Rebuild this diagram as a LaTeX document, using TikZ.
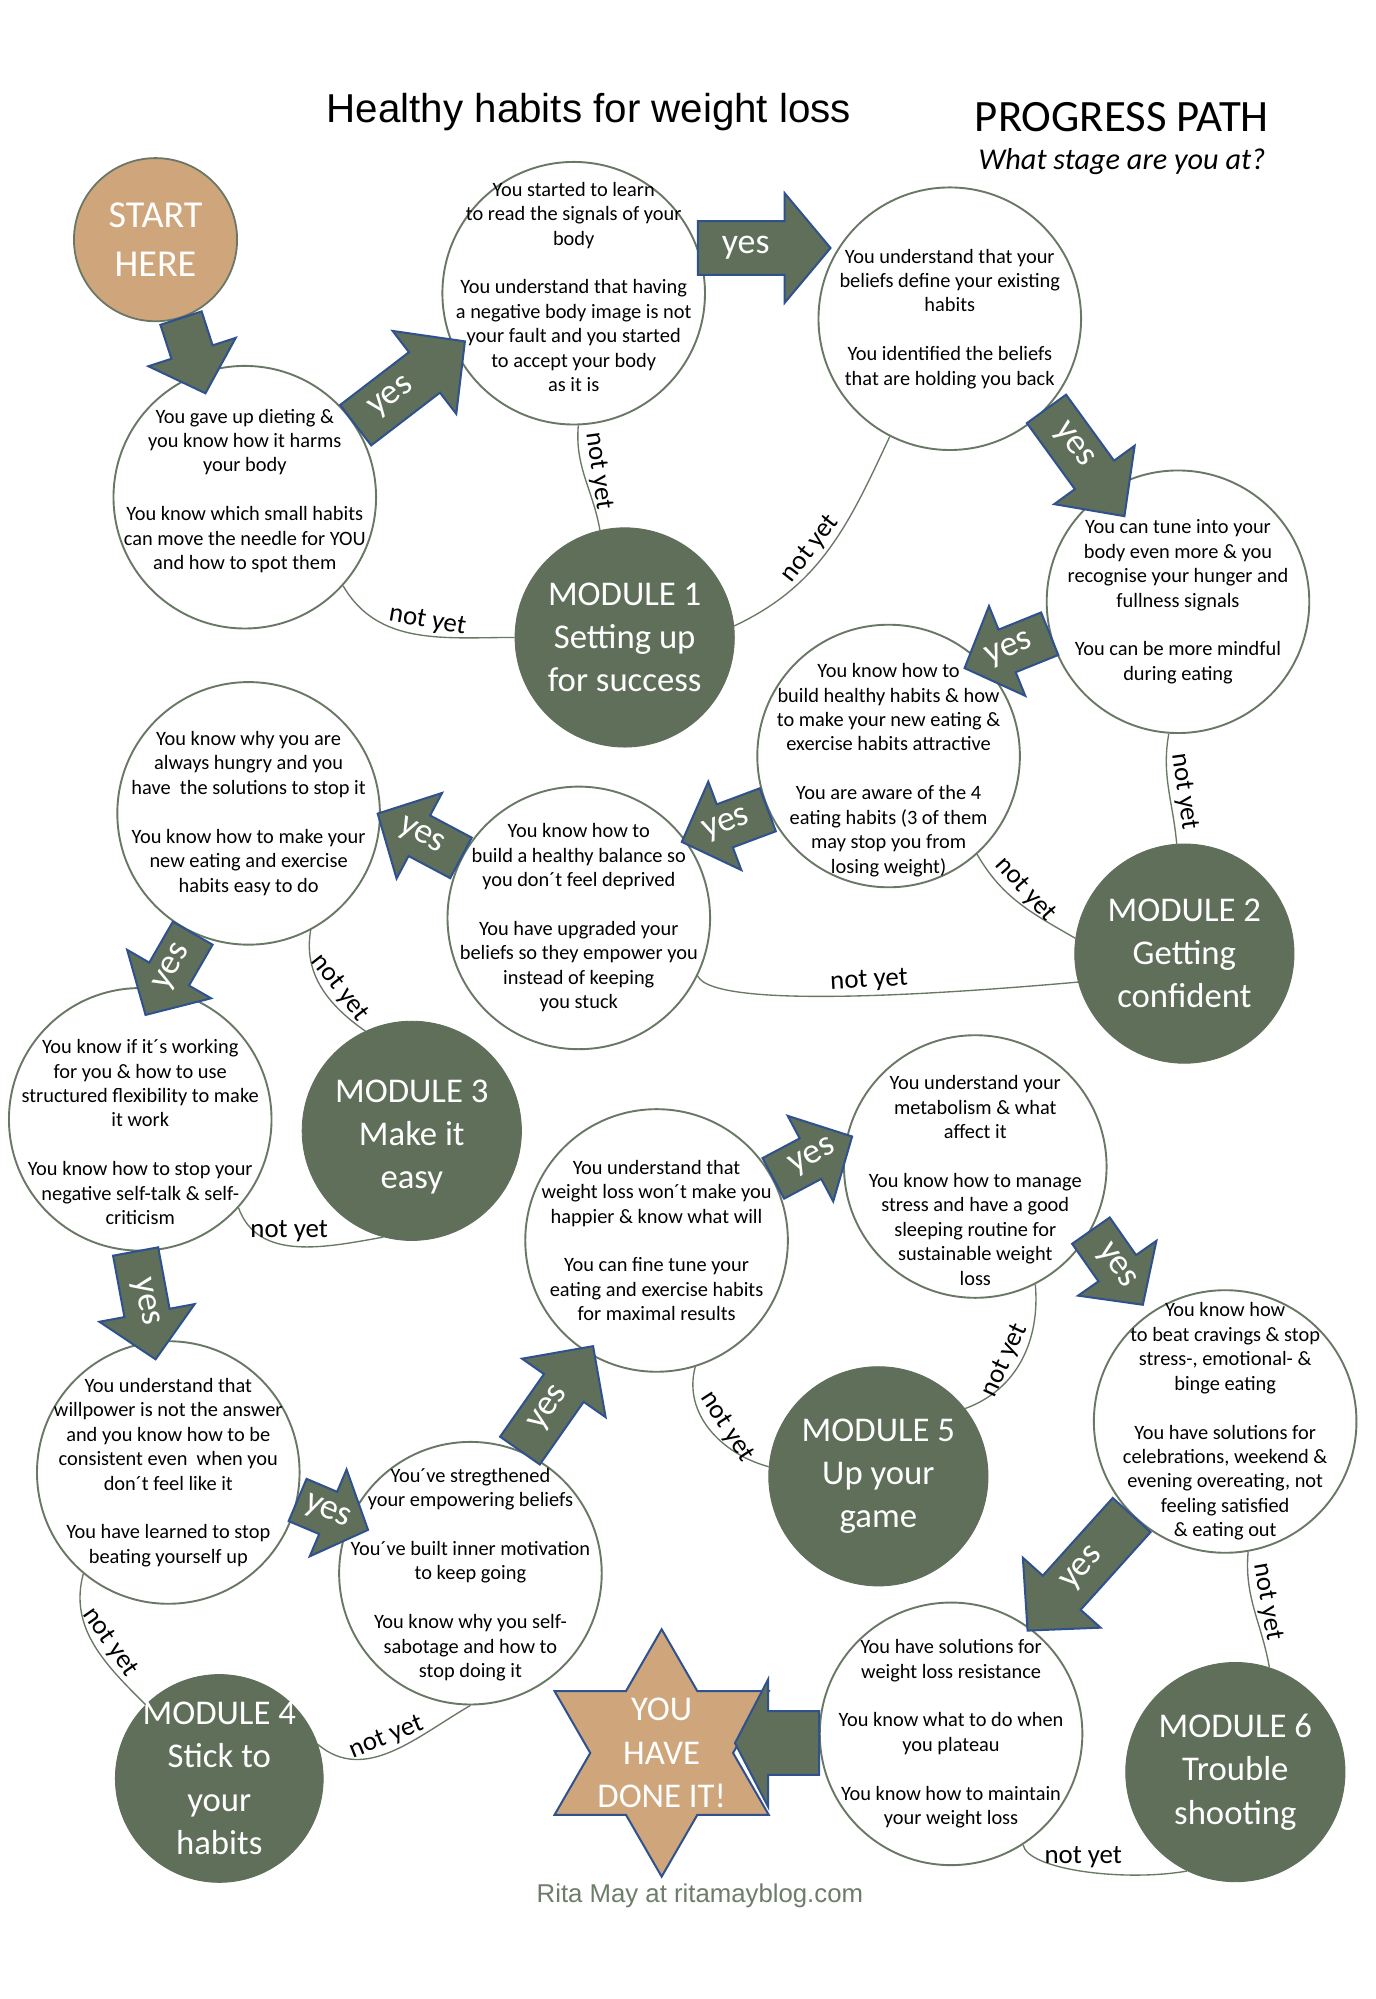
\documentclass[tikz,border=0pt]{standalone}
\usepackage{fontspec}
\setmainfont{Carlito}
\newfontfamily\arialfont{Liberation Sans}
\usetikzlibrary{positioning}

\definecolor{modgreen}{HTML}{5F6F5A}
\definecolor{ringgreen}{HTML}{687865}
\definecolor{starttan}{HTML}{CFA57C}
\definecolor{edgeblue}{HTML}{2F528F}
\definecolor{creditgrey}{HTML}{6D7D69}

\tikzset{
    stage/.style={circle, draw=ringgreen, line width=0.85pt, fill=white, minimum size=4.12cm, inner sep=0pt},
    stagetext/.style={align=center, inner sep=0pt, font=\fontsize{9.1}{10.9}\selectfont},
    module/.style={circle, fill=modgreen, draw=modgreen, minimum size=3.44cm, inner sep=0pt},
    moduletext/.style={align=center, inner sep=0pt, text=white, font=\fontsize{15.5}{19.3}\selectfont},
    startdot/.style={circle, fill=starttan, draw=ringgreen, line width=0.8pt, minimum size=2.56cm,
        inner sep=0pt, align=center, text=white, font=\fontsize{17}{22}\selectfont},
    notyet/.style={draw=ringgreen, line width=0.6pt},
    nylabel/.style={font=\fontsize{12}{12}\selectfont, inner sep=1.5pt},
    arrowbody/.style={fill=modgreen, draw=edgeblue, line width=0.9pt, line join=miter},
    yestext/.style={text=white, font=\fontsize{16}{16}\selectfont, inner sep=0pt},
    starshape/.style={fill=starttan, draw=edgeblue, line width=0.9pt},
}

% block arrow: tail, angle, length, shaft half width, head half width, head length, label spot, text
\newcommand{\blockarrow}[8]{%
    \begin{scope}[shift={(#1)}, rotate=#2]
        \draw[arrowbody] (0,-#4) -- ({#3-#6},-#4) -- ({#3-#6},-#5) -- (#3,0)
            -- ({#3-#6},#5) -- ({#3-#6},#4) -- (0,#4) -- cycle;
        \pgfmathsetmacro{\txtrot}{cos(#2)<-0.01 ? #2+180 : #2}
        \node[yestext, rotate=\txtrot] at ({#7*#3},0) {#8};
    \end{scope}}

\begin{document}
\begin{tikzpicture}[x=0.02cm, y=-0.02cm]
    \fill[white] (0,0) rectangle (1079,1568);
    \useasboundingbox (0,0) rectangle (1079,1568);

    % titles
    \node[font=\arialfont\fontsize{18}{20}\selectfont] (title) at (462,88) {Healthy habits for weight loss};
    \node[font=\fontsize{20}{22}\selectfont] (path) at (880,92) {PROGRESS PATH};
    \node[font=\itshape\fontsize{13.5}{15}\selectfont] (question) at (880,127) {What stage are you at?};

    \node[startdot] (start) at (122,188) {START\\HERE};

    % stages
    \node[stage] (c1) at (192,390) {};
    \node[stage] (c2) at (450,230) {};
    \node[stage] (c3) at (745,250) {};
    \node[stage] (c4) at (924,472) {};
    \node[stage] (c5) at (697,593) {};
    \node[stage] (c6) at (454,720) {};
    \node[stage] (c7) at (195,638) {};
    \node[stage] (c8) at (110,878) {};
    \node[stage] (c9) at (132,1155) {};
    \node[stage] (c10) at (369,1234) {};
    \node[stage] (c11) at (515,973) {};
    \node[stage] (c12) at (765,915) {};
    \node[stage] (c13) at (961,1115) {};
    \node[stage] (c14) at (746,1360) {};

    \node[stagetext, yshift=0.1cm] (t1) at (c1) {You gave up dieting \&\\you know how it harms\\your body\\[10.9pt]
        You know which small habits\\can move the needle for YOU\\and how to spot them};
    \node[stagetext, yshift=0.1cm] (t2) at (c2) {You started to learn\\to read the signals of your\\body\\[10.9pt]
        You understand that having\\a negative body image is not\\your fault and you started\\to accept your body\\as it is};
    \node[stagetext] (t3) at (c3) {You understand that your\\beliefs define your existing\\habits\\[10.9pt]
        You identified the beliefs\\that are holding you back};
    \node[stagetext] (t4) at (c4) {You can tune into your\\body even more \& you\\recognise your hunger and\\fullness signals\\[10.9pt]
        You can be more mindful\\during eating};
    \node[stagetext, yshift=-0.22cm] (t5) at (c5) {You know how to\\build healthy habits \& how\\to make your new eating \&\\exercise habits attractive\\[10.9pt]
        You are aware of the 4\\eating habits (3 of them\\may stop you from\\losing weight)};
    \node[stagetext] (t6) at (c6) {You know how to\\build a healthy balance so\\you don´t feel deprived\\[10.9pt]
        You have upgraded your\\beliefs so they empower you\\instead of keeping\\you stuck};
    \node[stagetext] (t7) at (c7) {You know why you are\\always hungry and you\\have\ \ the solutions to stop it\\[10.9pt]
        You know how to make your\\new eating and exercise\\habits easy to do};
    \node[stagetext, yshift=-0.2cm] (t8) at (c8) {You know if it´s working\\for you \& how to use\\structured flexibility to make\\it work\\[10.9pt]
        You know how to stop your\\negative self-talk \& self-\\criticism};
    \node[stagetext] (t9) at (c9) {You understand that\\willpower is not the answer\\and you know how to be\\consistent even\ \ when you\\don´t feel like it\\[10.9pt]
        You have learned to stop\\beating yourself up};
    \node[stagetext, yshift=-0.02cm] (t10) at (c10) {You´ve stregthened\\your empowering beliefs\\[10.9pt]
        You´ve built inner motivation\\to keep going\\[10.9pt]
        You know why you self-\\sabotage and how to\\stop doing it};
    \node[stagetext] (t11) at (c11) {You understand that\\weight loss won´t make you\\happier \& know what will\\[10.9pt]
        You can fine tune your\\eating and exercise habits\\for maximal results};
    \node[stagetext, yshift=-0.22cm] (t12) at (c12) {You understand your\\metabolism \& what\\affect it\\[10.9pt]
        You know how to manage\\stress and have a good\\sleeping routine for\\sustainable weight\\loss};
    \node[stagetext] (t13) at (c13) {You know how\\to beat cravings \& stop\\stress-, emotional- \&\\binge eating\\[10.9pt]
        You have solutions for\\celebrations, weekend \&\\evening overeating, not\\feeling satisfied\\\& eating out};
    \node[stagetext] (t14) at (c14) {You have solutions for\\weight loss resistance\\[10.9pt]
        You know what to do when\\you plateau\\[10.9pt]
        You know how to maintain\\your weight loss};

    % modules
    \node[module] (m1) at (490,500) {};
    \node[module] (m2) at (929,748) {};
    \node[module] (m3) at (323,887) {};
    \node[module, minimum size=3.26cm] (m4) at (172,1395) {};
    \node[module] (m5) at (689,1158) {};
    \node[module] (m6) at (969,1390) {};

    \node[moduletext] (n1) at (m1) {MODULE 1\\Setting up\\for success};
    \node[moduletext] (n2) at (m2) {MODULE 2\\Getting\\confident};
    \node[moduletext, yshift=-0.1cm] (n3) at (m3) {MODULE 3\\Make it\\easy};
    \node[moduletext] (n4) at (m4) {MODULE 4\\Stick to\\your\\habits};
    \node[moduletext] (n5) at (m5) {MODULE 5\\Up your\\game};
    \node[moduletext] (n6) at (m6) {MODULE 6\\Trouble\\shooting};

    % finish star
    \draw[starshape] (519,1278) -- (547,1326.5) -- (603,1326.5) -- (575,1375) -- (603,1423.5)
        -- (547,1423.5) -- (519,1472) -- (491,1423.5) -- (435,1423.5) -- (463,1375)
        -- (435,1326.5) -- (491,1326.5) -- cycle;
    \node[align=center, text=white, font=\fontsize{15.5}{19.3}\selectfont] (done) at (519,1375) {YOU\\HAVE\\DONE IT!};

    \node[font=\arialfont\fontsize{11.5}{13}\selectfont, text=creditgrey] (credit) at (549,1487) {Rita May at ritamayblog.com};

    % not yet links
    \draw[notyet] (c1.-42) to[out=-60, in=180] node[nylabel, pos=0.55, anchor=south, rotate=-10] {not yet} (m1.180);
    \draw[notyet] (c2.-88) to[out=-95, in=100] node[nylabel, pos=0.45, anchor=south, rotate=-82] {not yet} (m1.103);
    \draw[notyet] (c3.-117) to[out=-115, in=25] node[nylabel, pos=0.55, anchor=south, rotate=52] {not yet} (m1.6);
    \draw[notyet] (c4.-94) to[out=-100, in=95] node[nylabel, pos=0.55, anchor=south, rotate=-82] {not yet} (m2.94);
    \draw[notyet] (c5.-48) to[out=-60, in=150] node[nylabel, pos=0.45, anchor=south, rotate=-48] {not yet} (m2.172);
    \draw[notyet] (c6.-26) to[out=-65, in=185, out distance=0.6cm, in distance=2cm] node[nylabel, pos=0.55, anchor=south, rotate=3] {not yet} (m2.195);
    \draw[notyet] (c7.-62) to[out=-100, in=145] node[nylabel, pos=0.6, anchor=south, rotate=-52] {not yet} (m3.115);
    \draw[notyet] (c8.-42) to[out=-70, in=190] node[nylabel, pos=0.45, anchor=south] {not yet} (m3.255);
    \draw[notyet] (c9.-130) to[out=-105, in=135] node[nylabel, pos=0.55, anchor=south, rotate=-55] {not yet} (m4.135);
    \draw[notyet] (c10.-90) to[out=-150, in=-40] node[nylabel, pos=0.5, anchor=south, rotate=22] {not yet} (m4.19);
    \draw[notyet] (c11.-73) to[out=-105, in=165] node[nylabel, pos=0.55, anchor=south, rotate=-57] {not yet} (m5.175);
    \draw[notyet] (c12.-63) to[out=-85, in=20] node[nylabel, pos=0.55, anchor=south, rotate=65] {not yet} (m5.38);
    \draw[notyet] (c13.-80) to[out=-95, in=100] node[nylabel, pos=0.45, anchor=south, rotate=-80] {not yet} (m6.72);
    \draw[notyet] (c14.-57) to[out=-80, in=190, out distance=0.4cm, in distance=1cm] node[nylabel, pos=0.5, anchor=south] {not yet} (m6.244);

    % yes arrows
    \blockarrow{start.-72}{-72}{62}{17}{36}{34}{0}{}
    \blockarrow{c1.33}{37.5}{108}{20}{41}{40}{0.33}{yes}
    \blockarrow{c2.20}{0}{104}{21}{43}{36}{0.36}{yes}
    \blockarrow{c3.-43}{-54}{104}{19}{39}{40}{0.34}{yes}
    \blockarrow{c4.-166}{-158}{72}{18}{38}{36}{0.47}{yes}
    \blockarrow{c5.204}{-159.5}{72}{18}{37}{36}{0.48}{yes}
    \blockarrow{c6.153}{152}{74}{18}{38}{37}{0.48}{yes}
    \blockarrow{c7.-115}{-120}{74}{18}{38}{37}{0.42}{yes}
    \blockarrow{c8.-92}{-79.5}{86}{18}{38}{37}{0.47}{yes}
    \blockarrow{c9.-12}{-23}{60}{18}{37}{34}{0.42}{yes}
    \blockarrow{c10.68}{55}{100}{19}{40}{40}{0.4}{yes}
    \blockarrow{c11.28}{28}{70}{18}{38}{37}{0.5}{yes}
    \blockarrow{c12.-29}{-55}{71}{18}{37.5}{35}{0.48}{yes}
    \blockarrow{c13.-135}{-132}{122}{20}{41}{40}{0.47}{yes}
    \blockarrow{c14.184}{180}{66}{25}{50}{26}{0}{}
\end{tikzpicture}
\end{document}
